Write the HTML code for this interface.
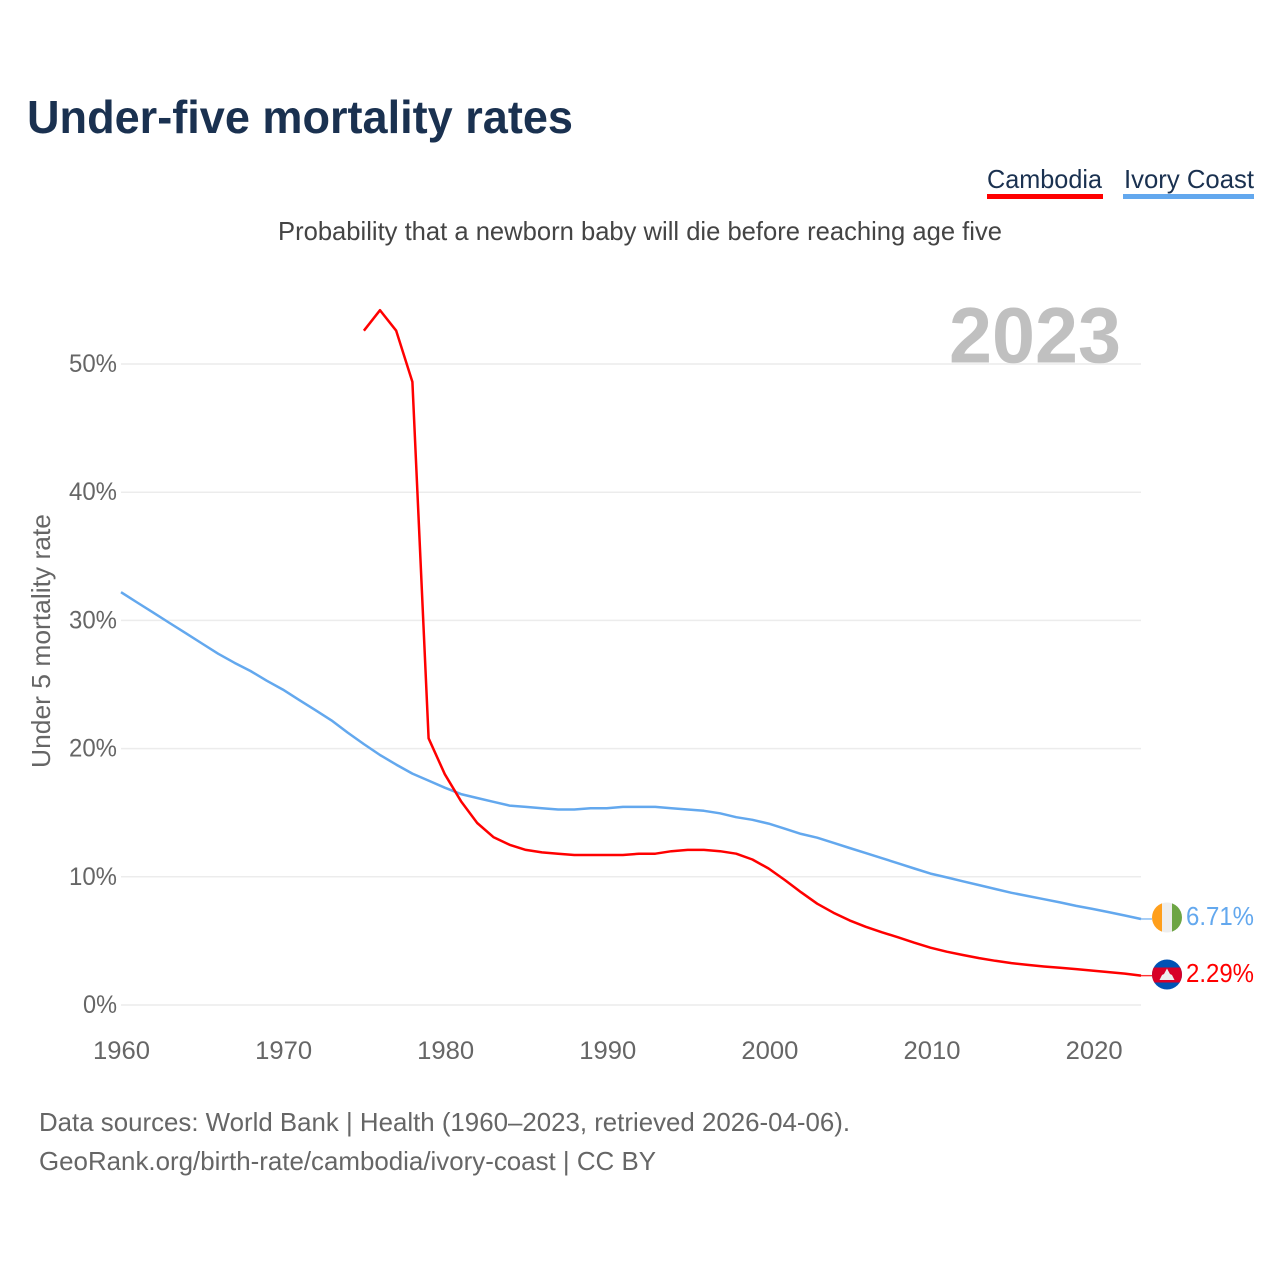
<!DOCTYPE html>
<html lang="en">
<head>
<meta charset="utf-8">
<title>Under-five mortality rates</title>
<style>
  html, body { margin: 0; padding: 0; background: #fff; }
  svg { display: block; font-family: "Liberation Sans", sans-serif; }
</style>
</head>
<body>
<svg id="chart" xmlns="http://www.w3.org/2000/svg" width="1280" height="1280" viewBox="0 0 1280 1280">
  <rect width="1280" height="1280" fill="#ffffff"/>
  <text x="27" y="133" font-size="46" font-weight="700" fill="#1a3150" textLength="546" lengthAdjust="spacingAndGlyphs">Under-five mortality rates</text>

  <g>
    <text x="987" y="188" font-size="26" fill="#1a3150" textLength="115" lengthAdjust="spacingAndGlyphs">Cambodia</text>
    <rect x="987" y="194" width="116" height="5" fill="#ff0000"/>
  </g>
  <g>
    <text x="1124" y="188" font-size="26" fill="#1a3150" textLength="130" lengthAdjust="spacingAndGlyphs">Ivory Coast</text>
    <rect x="1123" y="194" width="131" height="5" fill="#63a8ee"/>
  </g>

  <text x="278" y="240" font-size="26" fill="#444444" textLength="724" lengthAdjust="spacingAndGlyphs">Probability that a newborn baby will die before reaching age five</text>

  <text x="949" y="362.5" font-size="79" font-weight="700" fill="#c0c0c0" textLength="172" lengthAdjust="spacingAndGlyphs">2023</text>
  <g id="grid"></g>
  <g id="yticks"></g>
  <g id="xticks"></g>
  <text transform="translate(50,768) rotate(-90)" font-size="26" fill="#666666" textLength="254" lengthAdjust="spacingAndGlyphs">Under 5 mortality rate</text>

  <g id="series"></g>

  <g>
    <clipPath id="clip-ci"><circle cx="1167" cy="917.5" r="15"/></clipPath>
    <g clip-path="url(#clip-ci)">
      <rect x="1152" y="902" width="10" height="31" fill="#ff9f1c"/>
      <rect x="1162" y="902" width="10" height="31" fill="#eeeeee"/>
      <rect x="1172" y="902" width="10" height="31" fill="#6da544"/>
    </g>
  </g>
  <g>
    <clipPath id="clip-kh"><circle cx="1167" cy="974.5" r="15"/></clipPath>
    <g clip-path="url(#clip-kh)">
      <rect x="1152" y="959" width="30" height="31" fill="#0052b4"/>
      <rect x="1152" y="967.5" width="30" height="15" fill="#d80027"/>
      <polygon points="1159.5,980 1162,975 1164,974 1167,968.5 1170,974 1172,975 1174.5,980" fill="#eeeeee"/>
    </g>
  </g>

  <text id="value-ci" x="1186" y="925" font-size="26" fill="#63a8ee" textLength="68" lengthAdjust="spacingAndGlyphs"></text>
  <text id="value-kh" x="1186" y="982" font-size="26" fill="#ff0000" textLength="68" lengthAdjust="spacingAndGlyphs"></text>

  <text x="39" y="1131" font-size="26" fill="#666666" textLength="811" lengthAdjust="spacingAndGlyphs">Data sources: World Bank | Health (1960–2023, retrieved 2026-04-06).</text>
  <text x="39" y="1170" font-size="26" fill="#666666" textLength="617" lengthAdjust="spacingAndGlyphs">GeoRank.org/birth-rate/cambodia/ivory-coast | CC BY</text>
</svg>
<script>
const cambodiaStartYear = 1975;
const cambodiaValues = [52.6, 54.2, 52.6, 48.6, 20.8, 18.0, 15.9, 14.2, 13.1, 12.5, 12.1, 11.9, 11.8, 11.7, 11.7, 11.7, 11.7, 11.8, 11.8, 12.0, 12.1, 12.1, 12.0, 11.8, 11.35, 10.65, 9.75, 8.8, 7.9, 7.2, 6.6, 6.1, 5.67, 5.28, 4.86, 4.47, 4.16, 3.9, 3.66, 3.45, 3.27, 3.13, 3.0, 2.9, 2.8, 2.68, 2.57, 2.45, 2.29];
const ivoryStartYear = 1960;
const ivoryValues = [32.2, 31.4, 30.6, 29.8, 29.0, 28.2, 27.4, 26.7, 26.05, 25.3, 24.6, 23.8, 23.0, 22.2, 21.25, 20.35, 19.5, 18.75, 18.05, 17.5, 16.95, 16.45, 16.15, 15.85, 15.55, 15.45, 15.35, 15.25, 15.25, 15.35, 15.35, 15.45, 15.45, 15.45, 15.35, 15.25, 15.15, 14.95, 14.65, 14.45, 14.15, 13.75, 13.35, 13.05, 12.65, 12.25, 11.85, 11.45, 11.05, 10.65, 10.25, 9.95, 9.65, 9.35, 9.05, 8.75, 8.5, 8.25, 8.0, 7.73, 7.5, 7.25, 6.98, 6.71];
const yTickValues = [0, 10, 20, 30, 40, 50];
const xTickYears = [1960, 1970, 1980, 1990, 2000, 2010, 2020];

const NS = 'http://www.w3.org/2000/svg';
function xScale(year) { return 121 + (year - 1960) * (1141 - 121) / 63; }
function xTickScale(year) { return 121.5 + (year - 1960) * 16.21; }
function yScale(pct) { return 1005 - pct * (1005 - 364) / 50; }
function make(tag, attrs, parent) {
  const el = document.createElementNS(NS, tag);
  for (const k in attrs) el.setAttribute(k, attrs[k]);
  parent.appendChild(el);
  return el;
}

const grid = document.getElementById('grid');
const yticks = document.getElementById('yticks');
yTickValues.forEach(function (v) {
  const line = make('line', { x1: 121, x2: 1141, y1: yScale(v), y2: yScale(v), stroke: '#ececec', 'stroke-width': 1.5 }, grid);
  
  
  const label = String(v) + '%';
  const t = make('text', { x: 117, y: yScale(v) + 8, 'text-anchor': 'end', 'font-size': 25, fill: '#666666', textLength: String(v).length * 14 + 20, lengthAdjust: 'spacingAndGlyphs' }, yticks);
  
  
  t.textContent = label;
});

const xticks = document.getElementById('xticks');
xTickYears.forEach(function (yr) {
  const t = make('text', { x: xTickScale(yr), y: 1059, 'text-anchor': 'middle', 'font-size': 25, fill: '#666666', textLength: 57, lengthAdjust: 'spacingAndGlyphs' }, xticks);
  
  
  t.textContent = String(yr);
});

function drawSeries(values, startYear, color, name) {
  const group = document.getElementById('series');
  const pts = values.map(function (v, i) { return xScale(startYear + i).toFixed(1) + ',' + yScale(v).toFixed(1); });
  const line = make('polyline', { points: pts.join(' '), fill: 'none', stroke: color, 'stroke-width': 2.5, 'stroke-linejoin': 'round' }, group);
  
  
  const last = values[values.length - 1];
  const leader = make('line', { x1: xScale(2023), y1: yScale(last), x2: 1152, y2: yScale(last), stroke: color, 'stroke-width': 1.4, opacity: 0.8 }, group);
  
  
}
drawSeries(ivoryValues, ivoryStartYear, '#63a8ee', 'ivory-coast-line');
drawSeries(cambodiaValues, cambodiaStartYear, '#ff0000', 'cambodia-line');

document.getElementById('value-ci').textContent = ivoryValues[ivoryValues.length - 1].toFixed(2) + '%';
document.getElementById('value-kh').textContent = cambodiaValues[cambodiaValues.length - 1].toFixed(2) + '%';
</script>
</body>
</html>
